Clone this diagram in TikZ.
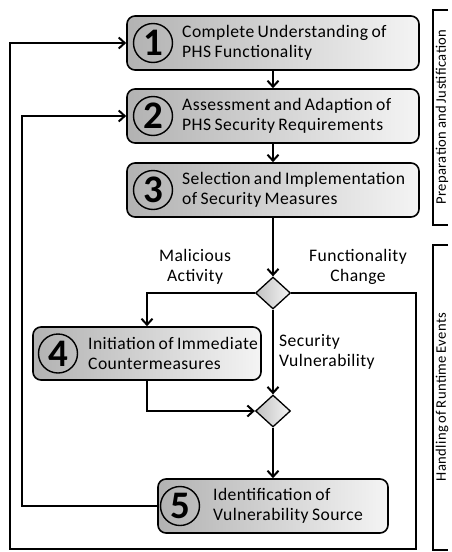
\documentclass[tikz,border=0pt]{standalone}
\usepackage{fontspec}
\setmainfont{Carlito}
\newfontfamily\boxfont[LetterSpace=2.5,WordSpace=0.75]{Carlito}
\usetikzlibrary{arrows.meta,shapes.geometric}

\definecolor{shadeA}{RGB}{178,178,178}
\definecolor{shadeB}{RGB}{244,244,244}

\begin{document}
\begin{tikzpicture}[x=1pt,y=-1pt,
  stepbox/.style={draw=black, line width=1.6pt, rounded corners=8pt,
    left color=shadeA, right color=shadeB, minimum height=54pt, inner sep=0pt},
  numring/.style={circle, draw=black, line width=1.4pt, minimum size=39pt,
    inner sep=0pt, font=\bfseries\fontsize{39}{39}\selectfont},
  steptext/.style={anchor=west, align=left, inner sep=0pt,
    font=\boxfont\fontsize{17.6}{20}\selectfont},
  lbl/.style={align=center, inner sep=0pt, font=\boxfont\fontsize{17.6}{20}\selectfont},
  decision/.style={diamond, draw=black, line width=1.3pt, minimum width=35pt,
    minimum height=32pt, inner sep=0pt, left color=shadeA!80, right color=shadeB},
  flow/.style={line width=2pt, -{Straight Barb[length=6pt,width=11pt,line width=2pt]}},
  brace/.style={line width=1.8pt},
  side/.style={rotate=90, inner sep=0pt, font=\boxfont\fontsize{14.6}{17}\selectfont}]

\useasboundingbox (0,0) rectangle (451,552);

% process steps
\node[stepbox, minimum width=292pt] (b1) at (273,43) {};
\node[stepbox, minimum width=292pt] (b2) at (273,116) {};
\node[stepbox, minimum width=292pt] (b3) at (273,190) {};
\node[stepbox, minimum width=228pt, minimum height=53pt] (b4) at (147,353.5) {};
\node[stepbox, minimum width=230pt] (b5) at (273,506) {};

\node[numring] (n1) at (153,43) {1};
\node[numring] (n2) at (153,116) {2};
\node[numring] (n3) at (153,190) {3};
\node[numring] (n4) at (58,353.5) {4};
\node[numring] (n5) at (180,506) {5};

\node[steptext] (t1) at (182,43) {Complete Understanding of\\PHS Functionality};
\node[steptext] (t2) at (182,116) {Assessment and Adaption of\\PHS Security Requirements};
\node[steptext] (t3) at (182,190) {Selection and Implementation\\of Security Measures};
\node[steptext] (t4) at (88,353.5) {Initiation of Immediate\\Countermeasures};
\node[steptext] (t5) at (213,506) {Identification of\\Vulnerability Source};

% decisions
\node[decision] (d1) at (273,293) {};
\node[decision] (d2) at (273,411) {};

% branch labels
\node[lbl] (lm) at (195,266.5) {Malicious\\Activity};
\node[lbl] (lf) at (358,266.5) {Functionality\\Change};
\node[lbl, anchor=west, align=left] (ls) at (279,352) {Security\\Vulnerability};

% connectors
\draw[flow] (b1.south) -- (b2.north);
\draw[flow] (b2.south) -- (b3.north);
\draw[flow] (b3.south) -- (d1.north);
\draw[flow] (d1.west) -| (b4.north);
\draw[flow] (b4.south) |- (d2.west);
\draw[flow] (d1.south) -- (d2.north);
\draw[flow] (d2.south) -- (b5.north);

\coordinate (fr) at (416,549);
\coordinate (fl) at (10,549);
\draw[flow] (d1.east) -| (fr) -- (fl) |- (b1.west);

\coordinate (lp) at (22,506);
\draw[flow] (b5.west) -- (lp) |- (b2.west);

% phase brackets
\coordinate (p1a) at (448,10);
\coordinate (p1b) at (448,225);
\coordinate (p2a) at (448,245);
\coordinate (p2b) at (448,550);
\draw[brace] (p1a) -- (433,10) -- (433,225) -- (p1b);
\draw[brace] (p2a) -- (433,245) -- (433,550) -- (p2b);

\node[side] (s1) at (442,117) {Preparation and Justification};
\node[side] (s2) at (442,397) {Handling of Runtime Events};

\end{tikzpicture}
\end{document}
